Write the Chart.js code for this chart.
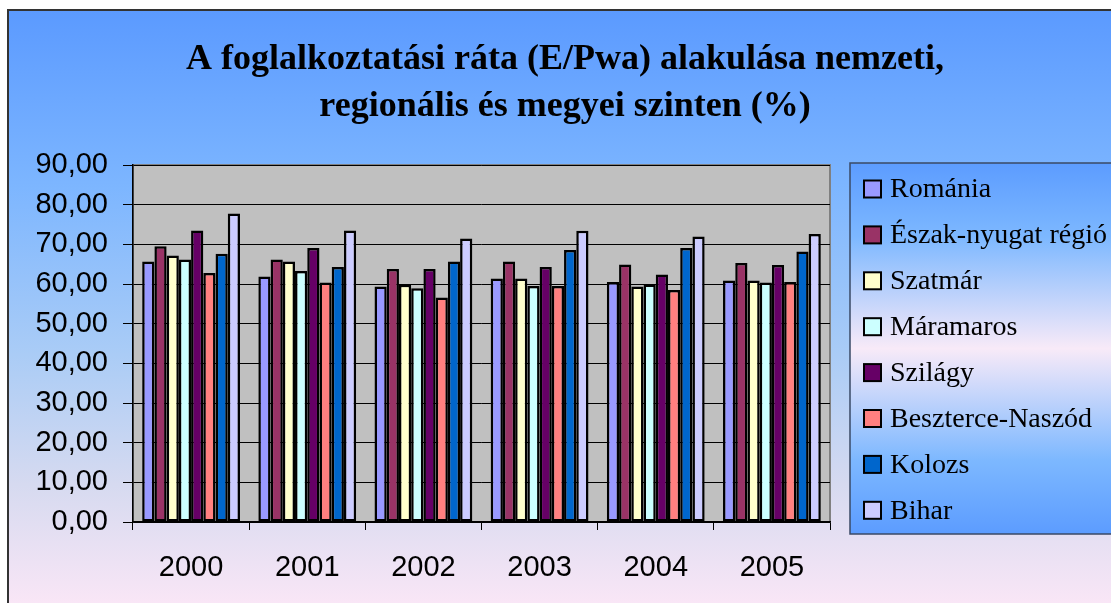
<!DOCTYPE html>
<html lang="hu">
<head>
    <meta charset="UTF-8">
    <title>A foglalkoztatási ráta</title>
    <script src="https://cdn.jsdelivr.net/npm/chart.js@4.4.0/dist/chart.umd.min.js"></script>
    <style>
        html, body { margin: 0; padding: 0; background: #fff; overflow: hidden; }
        #wrap { width: 1111px; height: 603px; position: relative; }
    </style>
</head>
<body>
    <div id="wrap"><canvas id="chart"></canvas></div>

    <script>
        // data
        const years = ['2000', '2001', '2002', '2003', '2004', '2005'];
        const romania     = [65.7, 61.9, 59.4, 61.4, 60.5, 60.9];
        const eszakNyugat = [69.5, 66.2, 63.8, 65.7, 64.9, 65.3];
        const szatmar     = [67.2, 65.7, 59.8, 61.4, 59.4, 60.9];
        const maramaros   = [66.2, 63.3, 58.9, 59.5, 59.9, 60.4];
        const szilagy     = [73.5, 69.1, 63.8, 64.3, 62.4, 64.8];
        const beszterce   = [62.8, 60.4, 56.6, 59.5, 58.5, 60.5];
        const kolozs      = [67.6, 64.3, 65.7, 68.6, 69.1, 68.2];
        const bihar       = [77.8, 73.5, 71.5, 73.4, 72.0, 72.6];

        const seriesNames = ['Románia', 'Észak-nyugat régió', 'Szatmár', 'Máramaros',
                             'Szilágy', 'Beszterce-Naszód', 'Kolozs', 'Bihar'];
        const seriesData = [romania, eszakNyugat, szatmar, maramaros, szilagy, beszterce, kolozs, bihar];
        const seriesColors = ['#9999FF', '#993366', '#FFFFCC', '#CCFFFF',
                              '#660066', '#FF8080', '#0066CC', '#CCCCFF'];
        const titleLines = ['A foglalkoztatási ráta (E/Pwa) alakulása nemzeti,',
                            'regionális és megyei szinten (%)'];

        const fmt = v => v.toFixed(2).replace('.', ',');

        // background, plot area, title
        const backdrop = {
            id: 'backdrop',
            beforeDraw(chart) {
                const ctx = chart.ctx;
                const W = chart.width, H = chart.height;
                const area = chart.chartArea;
                ctx.save();
                ctx.fillStyle = '#fff';
                ctx.fillRect(0, 0, W, H);
                const g = ctx.createLinearGradient(0, 10, 0, H);
                g.addColorStop(0, '#5B9AFF');
                g.addColorStop(0.3, '#7DB6FF');
                g.addColorStop(0.58, '#AACCF6');
                g.addColorStop(0.8, '#D6DAF0');
                g.addColorStop(1, '#F9E6F6');
                ctx.fillStyle = g;
                ctx.fillRect(8, 10, W - 8, H - 10);
                ctx.strokeStyle = '#333';
                ctx.lineWidth = 2;
                ctx.beginPath();
                ctx.moveTo(8, H);
                ctx.lineTo(8, 10);
                ctx.lineTo(W, 10);
                ctx.stroke();

                ctx.fillStyle = '#C0C0C0';
                ctx.fillRect(area.left, area.top, area.right - area.left, area.bottom - area.top);
                ctx.strokeStyle = '#808080';
                ctx.lineWidth = 2;
                ctx.strokeRect(area.left, area.top, area.right - area.left, area.bottom - area.top);

                ctx.fillStyle = '#000';
                ctx.font = 'bold 36px "Liberation Serif", "Times New Roman", serif';
                ctx.textAlign = 'center';
                ctx.textBaseline = 'alphabetic';
                ctx.fillText(titleLines[0], 565, 69);
                ctx.fillText(titleLines[1], 565, 116);
                ctx.restore();
            }
        };

        // legend box on the right
        const sideLegend = {
            id: 'sideLegend',
            afterDraw(chart) {
                const ctx = chart.ctx;
                const left = 850, top = 163, bottom = 534, right = chart.width + 2;
                ctx.save();
                const g = ctx.createLinearGradient(0, top, 0, bottom);
                g.addColorStop(0, '#5C9CFF');
                g.addColorStop(0.2, '#7DB8FF');
                g.addColorStop(0.5, '#F8EAF8');
                g.addColorStop(0.8, '#7DB8FF');
                g.addColorStop(1, '#5C9CFF');
                ctx.fillStyle = g;
                ctx.fillRect(left, top, right - left, bottom - top);
                ctx.strokeStyle = '#3A4A66';
                ctx.lineWidth = 1.5;
                ctx.strokeRect(left, top, right - left, bottom - top);

                ctx.font = '28px "Liberation Serif", "Times New Roman", serif';
                ctx.textAlign = 'left';
                ctx.textBaseline = 'middle';
                chart.data.datasets.forEach((ds, i) => {
                    const cy = 189 + i * 45.9;
                    ctx.fillStyle = ds.backgroundColor;
                    ctx.fillRect(864, cy - 8.5, 17, 17);
                    ctx.strokeStyle = '#000';
                    ctx.lineWidth = 2;
                    ctx.strokeRect(864, cy - 8.5, 17, 17);
                    ctx.fillStyle = '#000';
                    ctx.fillText(ds.label, 890, cy + 1);
                });
                ctx.restore();
            }
        };

        const ctx = document.getElementById('chart').getContext('2d');
        new Chart(ctx, {
            type: 'bar',
            data: {
                labels: years,
                datasets: seriesNames.map((name, i) => ({
                    label: name,
                    data: seriesData[i],
                    backgroundColor: seriesColors[i],
                    borderColor: '#000',
                    borderWidth: 2.5,
                    borderSkipped: false,
                    barPercentage: 1,
                    categoryPercentage: 0.842
                }))
            },
            options: {
                responsive: true,
                maintainAspectRatio: false,
                animation: false,
                layout: { padding: { top: 165, right: 281, left: 0, bottom: 0 } },
                plugins: {
                    legend: { display: false },
                    title: { display: false },
                    tooltip: { enabled: false }
                },
                scales: {
                    x: {
                        grid: {
                            offset: true,
                            drawOnChartArea: false,
                            color: '#000',
                            tickLength: 8
                        },
                        border: { color: '#000', width: 1.5 },
                        ticks: {
                            color: '#000',
                            padding: 21,
                            font: { family: '"Liberation Sans", Arial, sans-serif', size: 29 }
                        },
                        afterFit: s => { s.height = 81; }
                    },
                    y: {
                        min: 0,
                        max: 90,
                        ticks: {
                            stepSize: 10,
                            color: '#000',
                            padding: 15,
                            callback: v => fmt(v),
                            font: { family: '"Liberation Sans", Arial, sans-serif', size: 29 }
                        },
                        grid: { color: '#000', lineWidth: 1, tickLength: 10 },
                        border: { color: '#000', width: 1.5 },
                        afterFit: s => { s.width = 133; }
                    }
                }
            },
            plugins: [backdrop, sideLegend]
        });
    </script>
</body>
</html>
